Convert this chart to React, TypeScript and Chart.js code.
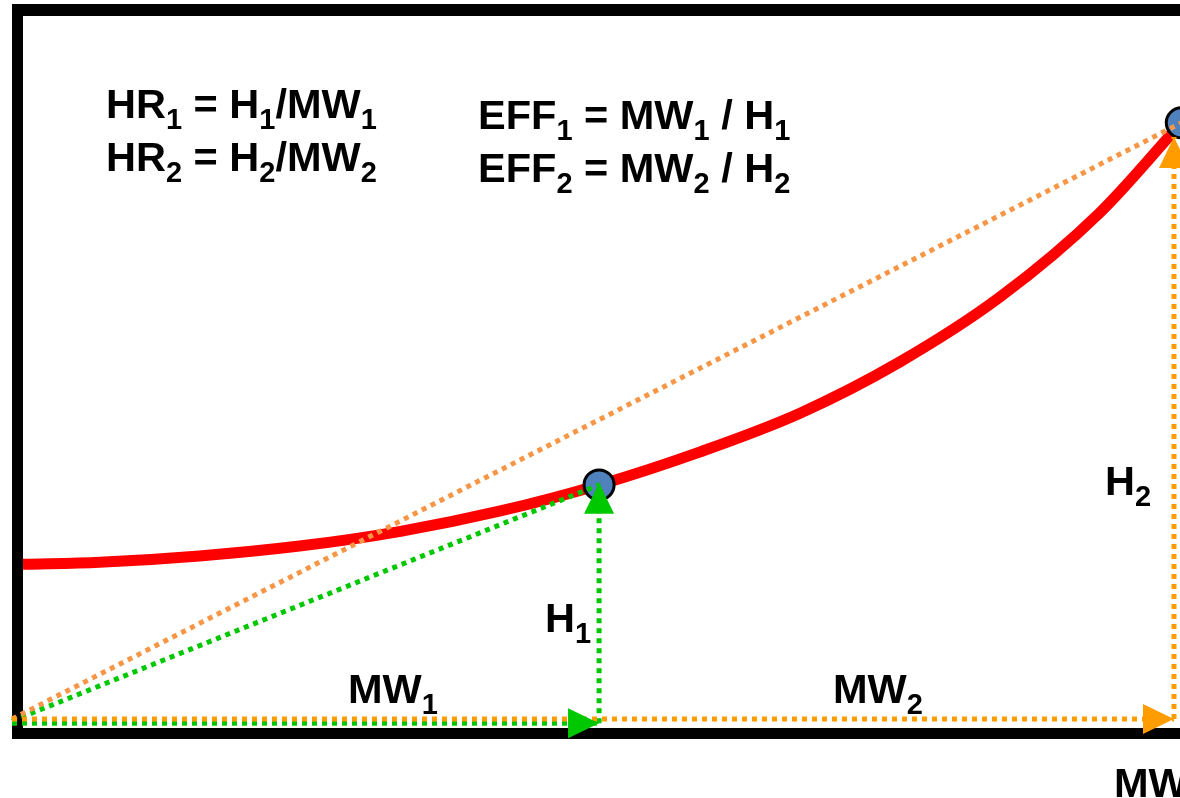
import React, { useEffect, useRef } from "react";
import { Chart, registerables } from "chart.js";

Chart.register(...registerables);

// ---- data (MW on x, heat input H on y) ----
const curveX = [0.9, 7.2, 15.4, 23.6, 31.9, 40.1, 48.2, 56.5, 64.7, 72.9, 81.1, 89.3, 96.0];
const curveY = [22.0, 22.3, 23.2, 24.6, 26.7, 29.6, 33.3, 38.0, 43.5, 50.8, 60.0, 72.0, 84.8];

const opPointX = [48.2, 96.0];
const opPointY = [33.3, 84.8];

const greenDiagX = [0, 48.2];
const greenDiagY = [-0.3, 33.3];
const greenBaseX = [0, 48.2];
const greenBaseY = [-0.6, -0.6];
const greenRiseX = [48.2, 48.2];
const greenRiseY = [-0.6, 33.6];

const orangeDiagX = [0, 96.0];
const orangeDiagY = [0, 84.8];
const orangeBaseX = [0, 95.4];
const orangeBaseY = [0, 0];
const orangeRiseX = [95.4, 95.4];
const orangeRiseY = [0, 82.8];

const formulaLines = [
  "HR_1 = H_1/MW_1",
  "HR_2 = H_2/MW_2",
  "EFF_1 = MW_1 / H_1",
  "EFF_2 = MW_2 / H_2",
];
const markerLabels = ["H_1", "H_2", "MW_1", "MW_2", "MW"];

const zip = (xs: number[], ys: number[]) => xs.map((x, i) => ({ x, y: ys[i] }));

const FONT = "'Liberation Sans', Arial, sans-serif";

function drawRich(ctx: CanvasRenderingContext2D, text: string, x: number, y: number) {
  // "_d" => subscript digit
  const parts: { t: string; sub: boolean }[] = [];
  let buf = "";
  for (let i = 0; i < text.length; i++) {
    if (text[i] === "_" && i + 1 < text.length) {
      if (buf) parts.push({ t: buf, sub: false });
      buf = "";
      parts.push({ t: text[i + 1], sub: true });
      i++;
    } else {
      buf += text[i];
    }
  }
  if (buf) parts.push({ t: buf, sub: false });
  let cx = x;
  ctx.fillStyle = "#000";
  ctx.textBaseline = "alphabetic";
  ctx.textAlign = "left";
  for (const p of parts) {
    ctx.font = p.sub ? `bold 29px ${FONT}` : `bold 41.5px ${FONT}`;
    ctx.fillText(p.t, cx, p.sub ? y + 11 : y);
    cx += ctx.measureText(p.t).width;
  }
}

const framePlugin = {
  id: "frame",
  beforeDatasetsDraw(chart: any) {
    const { ctx, chartArea: a, width } = chart;
    ctx.save();
    ctx.fillStyle = "#000";
    ctx.fillRect(a.left, a.top - 12, 11, a.bottom + 20 - (a.top - 12));
    ctx.fillRect(a.left, a.top - 12, width, 12);
    ctx.fillRect(a.left, a.bottom + 9, width, 11);
    ctx.restore();
  },
};

const arrowPlugin = {
  id: "arrows",
  afterDatasetsDraw(chart: any, _args: any, opts: any) {
    const ctx = chart.ctx;
    const idx: number[] = opts.indices || [];
    ctx.save();
    for (const i of idx) {
      const meta = chart.getDatasetMeta(i);
      const pts = meta.data;
      if (!pts || pts.length < 2) continue;
      const p1 = pts[pts.length - 2];
      const p2 = pts[pts.length - 1];
      const ang = Math.atan2(p2.y - p1.y, p2.x - p1.x);
      const L = 31;
      const hw = 15;
      const bx = p2.x - Math.cos(ang) * L;
      const by = p2.y - Math.sin(ang) * L;
      ctx.beginPath();
      ctx.moveTo(p2.x, p2.y);
      ctx.lineTo(bx + Math.sin(ang) * hw, by - Math.cos(ang) * hw);
      ctx.lineTo(bx - Math.sin(ang) * hw, by + Math.cos(ang) * hw);
      ctx.closePath();
      ctx.fillStyle = chart.data.datasets[i].borderColor;
      ctx.fill();
    }
    ctx.restore();
  },
};

const labelPlugin = {
  id: "labels",
  afterDraw(chart: any) {
    const ctx = chart.ctx;
    ctx.save();
    const pos = [
      [106, 118],
      [106, 171],
      [478, 129],
      [478, 182],
    ];
    formulaLines.forEach((t, i) => drawRich(ctx, t, pos[i][0], pos[i][1]));
    const mpos = [
      [545, 632],
      [1105, 495],
      [348, 703],
      [833, 703],
      [1114, 797],
    ];
    markerLabels.forEach((t, i) => drawRich(ctx, t, mpos[i][0], mpos[i][1]));
    ctx.restore();
  },
};

const W = 1300;
const H = 840;

export default function App() {
  const ref = useRef<HTMLCanvasElement | null>(null);
  useEffect(() => {
    if (!ref.current) return;
    const green = "#00c800";
    const orangeLight = "#f79646";
    const orange = "#ff9c00";
    const dotted = (data: any, color: string) => ({
      data,
      borderColor: color,
      backgroundColor: color,
      borderWidth: 5,
      borderDash: [5, 5],
      borderCapStyle: "butt",
      pointRadius: 0,
      showLine: true,
      tension: 0,
      clip: false,
    });
    const chart = new Chart(ref.current, {
      type: "line",
      data: {
        datasets: [
          dotted(zip(orangeBaseX, orangeBaseY), orange), // 0
          dotted(zip(orangeRiseX, orangeRiseY), orange), // 1
          dotted(zip(orangeDiagX, orangeDiagY), orangeLight), // 2
          dotted(zip(greenBaseX, greenBaseY), green), // 3
          dotted(zip(greenRiseX, greenRiseY), green), // 4
          dotted(zip(greenDiagX, greenDiagY), green), // 5
          {
            data: zip(opPointX, opPointY),
            showLine: false,
            pointRadius: 15,
            pointBorderWidth: 3,
            pointBackgroundColor: "#4f81bd",
            pointBorderColor: "#000",
            clip: false,
          } as any,
          {
            data: zip(curveX, curveY),
            borderColor: "#ff0000",
            borderWidth: 11,
            pointRadius: 0,
            cubicInterpolationMode: "monotone",
            borderCapStyle: "butt",
            clip: false,
          } as any,
        ] as any,
      },
      options: {
        animation: false,
        responsive: false,
        devicePixelRatio: 1,
        events: [],
        layout: {
          autoPadding: false,
          padding: { left: 12, top: 16, right: W - 1230, bottom: H - 719 },
        },
        scales: {
          x: { type: "linear", min: 0, max: 100, display: false },
          y: { type: "linear", min: 0, max: 100, display: false },
        },
        plugins: {
          legend: { display: false },
          tooltip: { enabled: false },
          arrows: { indices: [0, 1, 3, 4] },
        } as any,
      },
      plugins: [framePlugin, arrowPlugin, labelPlugin],
    });
    return () => chart.destroy();
  }, []);

  return (
    <div
      style={{
        position: "fixed",
        left: 0,
        top: 0,
        width: 1180,
        height: 798,
        overflow: "hidden",
        background: "#fff",
      }}
    >
      <canvas ref={ref} width={W} height={H} style={{ display: "block", width: W, height: H }} />
    </div>
  );
}
